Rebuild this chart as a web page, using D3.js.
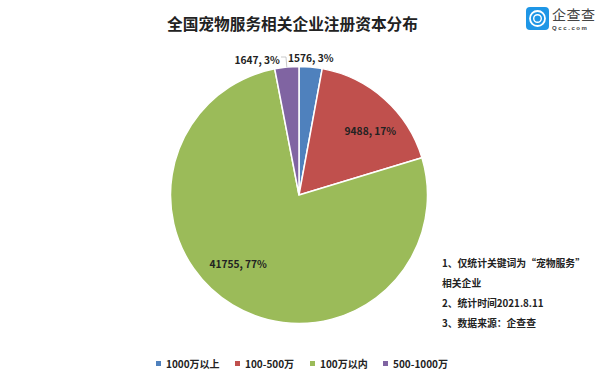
<!DOCTYPE html>
<html>
<head>
<meta charset="utf-8">
<script src="https://cdn.jsdelivr.net/npm/d3@7"></script>
<style>
  html, body { margin: 0; padding: 0; background: #fff; }
  svg { display: block; }
  text { font-family: "Noto Sans CJK SC", "Noto Sans", sans-serif; fill: #222; }
</style>
</head>
<body>
<div id="chart"></div>
<script>
const categories = ["1000万以上", "100-500万", "100万以内", "500-1000万"];
const values = [1576, 9488, 41755, 1647];
const percents = ["3%", "17%", "77%", "3%"];
const colors = ["#4f81bd", "#c0504d", "#9bbb59", "#8064a2"];
const notes = ["1、仅统计关键词为“宠物服务”", "相关企业", "2、统计时间2021.8.11", "3、数据来源：企查查"];

const width = 600;
const height = 374;
const cx = 299;
const cy = 195;
const radius = 128.5;

const svg = d3.select("#chart").append("svg")
    .attr("width", width)
    .attr("height", height);

// title
svg.append("text")
    .attr("x", 292.5)
    .attr("y", 30)
    .attr("text-anchor", "middle")
    .attr("font-size", 15.7)
    .attr("font-weight", 700)
    .text("全国宠物服务相关企业注册资本分布");

// pie
const pie = d3.pie().sort(null);
const arc = d3.arc().innerRadius(0).outerRadius(radius);
const arcs = pie(values);

const g = svg.append("g").attr("transform", `translate(${cx},${cy})`);
g.selectAll("path")
  .data(arcs)
  .join("path")
    .attr("d", arc)
    .attr("fill", (d, i) => colors[i])
    .attr("stroke", "#fff")
    .attr("stroke-width", 1.5);

// label anchors, nudged off each slice's mid angle to where the reference has them
const labelRadius = [1.05, 0.74, 0.72, 1.05];
const labelOffsets = [[-0.5, -1.5], [8, 8], [-13, -9], [-29, 0.5]];
const labelPos = arcs.map((d, i) => {
  const mid = (d.startAngle + d.endAngle) / 2;
  return [
    cx + Math.sin(mid) * radius * labelRadius[i] + labelOffsets[i][0],
    cy - Math.cos(mid) * radius * labelRadius[i] + labelOffsets[i][1]
  ];
});
svg.append("g").selectAll("text")
  .data(arcs)
  .join("text")
    .attr("x", (d, i) => labelPos[i][0])
    .attr("y", (d, i) => labelPos[i][1])
    .attr("text-anchor", "middle")
    .attr("dominant-baseline", "middle")
    .attr("font-size", 10.2)
    .attr("font-weight", 700)
    .text((d, i) => `${values[i]}, ${percents[i]}`);

// leader line for the small purple slice
const mid4 = (arcs[3].startAngle + arcs[3].endAngle) / 2;
svg.append("polyline")
    .attr("points", [
      [281, 57],
      [286, 57],
      [cx + Math.sin(mid4) * radius, cy - Math.cos(mid4) * radius]
    ].join(" "))
    .attr("fill", "none")
    .attr("stroke", "#bbb")
    .attr("stroke-width", 0.8);

// notes
svg.append("g").selectAll("text")
  .data(notes)
  .join("text")
    .attr("x", 442)
    .attr("y", (d, i) => 266.5 + i * 20)
    .attr("font-size", 9.8)
    .attr("font-weight", 700)
    .text(d => d);

// legend
const legendX = [156, 235, 310, 383];
const legend = svg.append("g").selectAll("g")
  .data(categories)
  .join("g")
    .attr("transform", (d, i) => `translate(${legendX[i]},365)`);
legend.append("rect")
    .attr("y", -4)
    .attr("width", 5)
    .attr("height", 5)
    .attr("fill", (d, i) => colors[i]);
legend.append("text")
    .attr("x", 10)
    .attr("y", 0)
    .attr("dominant-baseline", "middle")
    .attr("font-size", 10)
    .attr("font-weight", 700)
    .text(d => d);

// logo
const logo = svg.append("g").attr("transform", "translate(526,7)");
logo.append("rect")
    .attr("width", 23)
    .attr("height", 23)
    .attr("rx", 4)
    .attr("fill", "#1e96e6");
logo.append("circle")
    .attr("cx", 11.5).attr("cy", 11.5).attr("r", 7.5)
    .attr("fill", "none").attr("stroke", "#fff").attr("stroke-width", 1.8);
logo.append("circle")
    .attr("cx", 11.5).attr("cy", 11.5).attr("r", 3.8)
    .attr("fill", "none").attr("stroke", "#fff").attr("stroke-width", 1.4);
svg.append("text")
    .attr("x", 552).attr("y", 20)
    .attr("font-size", 14)
    .attr("letter-spacing", 0.5)
    .style("fill", "#444")
    .text("企查查");
svg.append("text")
    .attr("x", 552).attr("y", 30)
    .attr("font-size", 6)
    .attr("font-weight", 700)
    .attr("letter-spacing", 1.6)
    .style("font-family", "'Liberation Sans'")
    .style("fill", "#444")
    .text("Qcc.com");
</script>
</body>
</html>
